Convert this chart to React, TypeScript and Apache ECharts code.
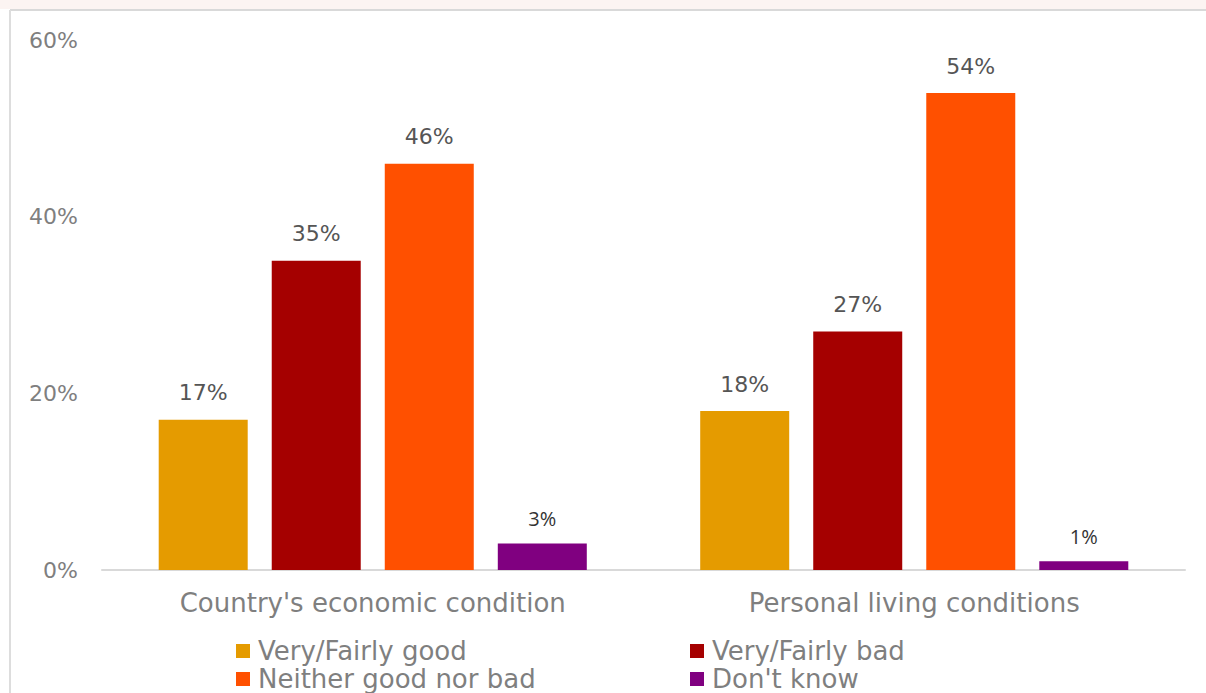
import React, { useEffect, useRef } from "react";
import * as echarts from "echarts";

const categories = ["Country's economic condition", "Personal living conditions"];
const seriesNames = ["Very/Fairly good", "Very/Fairly bad", "Neither good nor bad", "Don't know"];
const goodValues = [17, 18];
const badValues = [35, 27];
const neitherValues = [46, 54];
const dontKnowValues = [3, 1];
const colors = ["#E59B00", "#A50000", "#FF5000", "#800080"];
const yTicks = { min: 0, max: 60, interval: 20 };

const FONT = "DejaVu Sans";

export default function App() {
  const ref = useRef<HTMLDivElement>(null);
  useEffect(() => {
    document.body.style.margin = "0";
    const chart = echarts.init(ref.current!, null, { renderer: "svg" });
    const bigLabel = {
      show: true,
      position: "top",
      distance: 16,
      formatter: "{c}%",
      fontFamily: FONT,
      fontSize: 22,
      color: "#555555",
    };
    const smallLabel = {
      show: true,
      position: "top",
      distance: 15,
      formatter: "{c}%",
      fontFamily: "Open Sans",
      fontSize: 20,
      color: "#333333",
    };
    const allValues = [goodValues, badValues, neitherValues, dontKnowValues];
    const series = seriesNames.map((name, i) => ({
      name,
      type: "bar",
      data: allValues[i],
      barWidth: 89,
      barGap: "27%",
      itemStyle: { color: colors[i] },
      label: i === 3 ? smallLabel : bigLabel,
    }));
    const legendText = { fontFamily: FONT, fontSize: 26, color: "#7f7f7f", lineHeight: 28, padding: [0, 0, 0, 3] };
    chart.setOption({
      animation: false,
      backgroundColor: "#ffffff",
      textStyle: { fontFamily: FONT },
      graphic: [
        { type: "rect", shape: { x: 0, y: 0, width: 1206, height: 9 }, style: { fill: "#fcf4f2" }, silent: true },
        { type: "line", shape: { x1: 10, y1: 10, x2: 1206, y2: 10 }, style: { stroke: "#d9d9d9", lineWidth: 2 }, silent: true },
        { type: "line", shape: { x1: 10, y1: 10, x2: 10, y2: 693 }, style: { stroke: "#dddddd", lineWidth: 2 }, silent: true },
      ],
      grid: { left: 102, right: 21, top: 40, bottom: 123, containLabel: false },
      legend: [
        {
          data: [seriesNames[0], seriesNames[2]],
          orient: "vertical",
          left: 236,
          top: 637,
          padding: 0,
          itemWidth: 14,
          itemHeight: 14,
          itemGap: 0,
          icon: "rect",
          textStyle: legendText,
        },
        {
          data: [seriesNames[1], seriesNames[3]],
          orient: "vertical",
          left: 690,
          top: 637,
          padding: 0,
          itemWidth: 14,
          itemHeight: 14,
          itemGap: 0,
          icon: "rect",
          textStyle: legendText,
        },
      ],
      xAxis: {
        type: "category",
        data: categories,
        axisLine: { lineStyle: { color: "#d9d9d9", width: 2 } },
        axisTick: { show: false },
        axisLabel: { fontFamily: FONT, fontSize: 26, color: "#7f7f7f", margin: 20 },
      },
      yAxis: {
        type: "value",
        min: yTicks.min,
        max: yTicks.max,
        interval: yTicks.interval,
        splitLine: { show: false },
        axisLine: { show: false },
        axisTick: { show: false },
        axisLabel: { formatter: "{value}%", fontFamily: FONT, fontSize: 22, color: "#7f7f7f", margin: 24 },
      },
      series,
    });
    return () => chart.dispose();
  }, []);
  return <div ref={ref} style={{ width: 1206, height: 693 }} />;
}
